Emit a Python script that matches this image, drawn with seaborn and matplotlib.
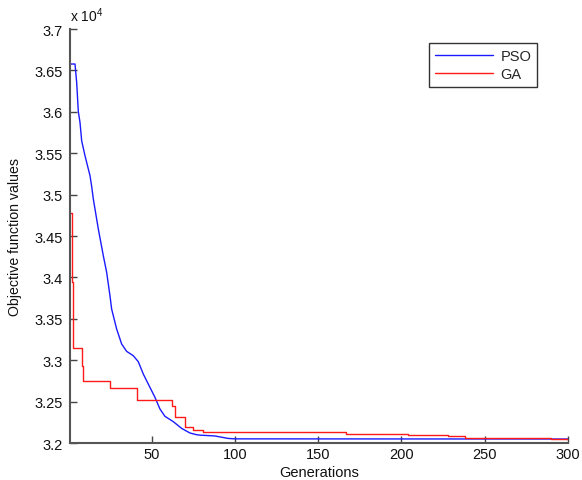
import matplotlib
matplotlib.use("Agg")
import matplotlib.pyplot as plt
import seaborn as sns
import pandas as pd
from matplotlib.ticker import FuncFormatter, MultipleLocator

# PSO best objective value per generation
pso_gen = [1, 4, 5, 6, 7, 8, 10, 12, 13, 14, 15, 18, 21, 23, 25, 26, 29, 32, 35, 39,
           42, 45, 49, 52, 55, 58, 63, 68, 73, 77, 79, 88, 96, 100, 300]
pso_val = [36577, 36577, 36356, 36000, 35873, 35651, 35470, 35309, 35230, 35100, 34947,
           34585, 34262, 34062, 33779, 33618, 33377, 33196, 33107, 33054,
           32982, 32833, 32672, 32552, 32411, 32322, 32258, 32177, 32121, 32100,
           32095, 32085, 32055, 32050, 32048]

# GA best objective value (change points of a stepped curve)
ga_gen = [1, 2, 3, 8, 9, 25, 41, 62, 64, 70, 75, 81, 167, 204, 228, 238, 290, 300]
ga_val = [34775, 33940, 33150, 32935, 32753, 32660, 32515, 32443, 32320, 32190,
          32157, 32129, 32112, 32097, 32081, 32064, 32045, 32045]

series_names = ["PSO", "GA"]
x_ticks = [50, 100, 150, 200, 250, 300]

sns.set_theme(style="ticks")
plt.rcParams["font.family"] = ["Liberation Sans", "DejaVu Sans"]
plt.rcParams["mathtext.fontset"] = "custom"
plt.rcParams["mathtext.rm"] = "Liberation Sans"

fig = plt.figure(figsize=(5.82, 4.81), dpi=100)
ax = fig.add_axes([70 / 582, 1 - 444 / 481, 498 / 582, 414 / 481])

df_pso = pd.DataFrame({"gen": pso_gen, "val": pso_val})
df_ga = pd.DataFrame({"gen": ga_gen, "val": ga_val})

sns.lineplot(data=df_pso, x="gen", y="val", ax=ax, color="#1a1aff", lw=1.0,
             estimator=None, label=series_names[0])
sns.lineplot(data=df_ga, x="gen", y="val", ax=ax, color="#ff1a1a", lw=1.0,
             estimator=None, drawstyle="steps-post", label=series_names[1])

ax.set_xlim(1, 300)
ax.set_ylim(32000, 37000)
ax.set_xticks(x_ticks)
ax.yaxis.set_major_locator(MultipleLocator(500))
ax.yaxis.set_major_formatter(FuncFormatter(lambda v, p: f"{v/1e4:g}"))

for s in ["top", "right"]:
    ax.spines[s].set_visible(False)
for s in ["left", "bottom"]:
    ax.spines[s].set_color("#555555")
    ax.spines[s].set_linewidth(1.5)
ax.tick_params(direction="in", length=5, width=1, color="#444444",
               labelsize=10.5, labelcolor="#111111")
ax.tick_params(axis="x", pad=3)
ax.tick_params(axis="y", pad=5)

ax.set_xlabel("Generations", fontsize=10.5, labelpad=2.5, color="#111111")
ax.set_ylabel("Objective function values", fontsize=10.2, labelpad=9, color="#111111")

ax.text(0.0, 1.012, r"x 10$^{4}$", transform=ax.transAxes, ha="left", va="bottom",
        fontsize=10, color="#111111")

leg = ax.legend(loc="upper right", bbox_to_anchor=(0.938, 0.966), frameon=True,
                fancybox=False, edgecolor="#333333", framealpha=1,
                handlelength=4.0, fontsize=10.5, borderpad=0.4, labelspacing=0.3,
                handletextpad=0.5, borderaxespad=0)
leg.get_frame().set_linewidth(1.0)

fig.savefig("out.png", dpi=100, facecolor="white")
